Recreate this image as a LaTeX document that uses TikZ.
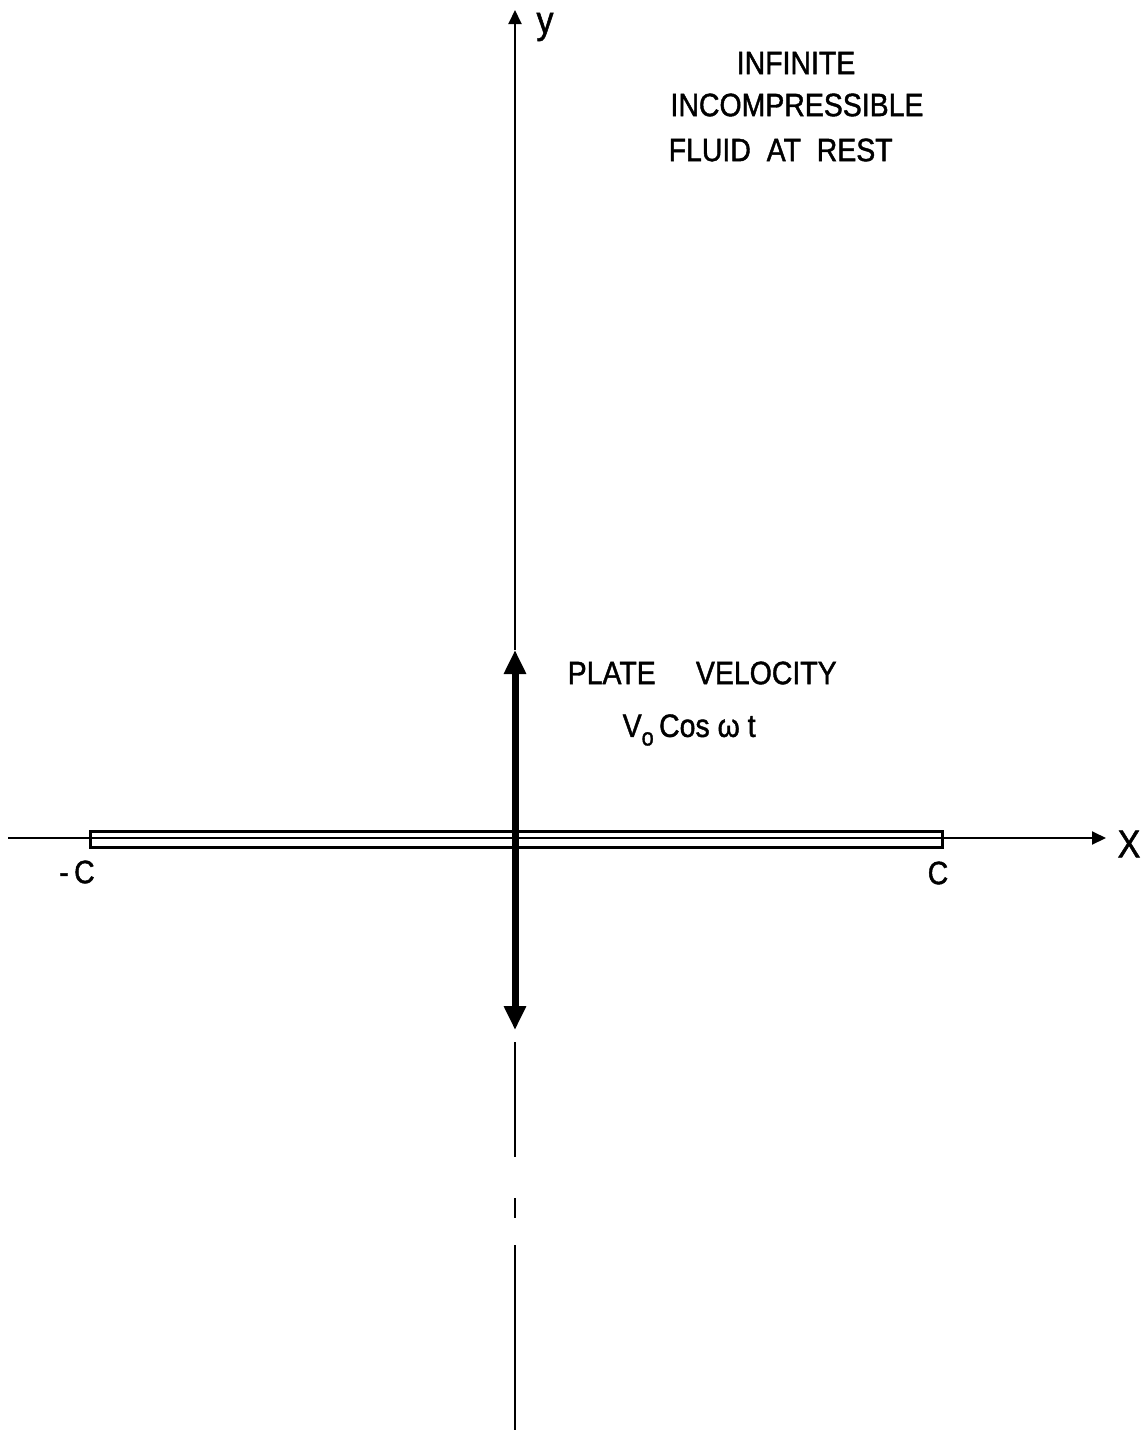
\documentclass[tikz,border=0pt]{standalone}
\usepackage{fontspec}
\setmainfont{Liberation Sans}[FakeStretch=0.88,FakeBold=1.3]
\usetikzlibrary{arrows.meta}
\tikzset{
  axisline/.style={line width=0.2mm,-{Triangle[length=1.4mm,width=1.3mm]}},
  lbl/.style={inner sep=0pt,font=\fontsize{9.2}{12}\selectfont},
}
\begin{document}
\begin{tikzpicture}[x=0.1mm,y=-0.1mm]
\useasboundingbox (0,0) rectangle (1143,1430);
% axes
\coordinate (O) at (515,838);
\coordinate (xs) at (8,838);
\coordinate (xe) at (1106,838);
\coordinate (ytop) at (515,10);
\coordinate (vup) at (515,650);
\coordinate (vdn) at (515,1030);
\coordinate (cs) at (515,1042);
\coordinate (ce) at (515,1430);
\draw[axisline] (xs) -- (xe);
\draw[axisline] (vup) -- (ytop);
% plate
\draw[line width=0.3mm] (90,831) rectangle (942,847);
% plate velocity
\draw[line width=0.7mm,{Triangle[length=2.4mm,width=2.1mm]}-{Triangle[length=2.4mm,width=2.1mm]}] (vdn) -- (vup);
\draw[line width=0.25mm,dash pattern=on 11.5mm off 4.1mm on 2mm off 2.7mm on 30mm] (cs) -- (ce);
% labels
\node[lbl,font=\fontsize{11}{12}\selectfont] (ylab) at (545,27) {y};
\node[lbl,font=\fontsize{11}{12}\selectfont] (xlab) at (1129,844) {X};
\node[lbl] (mc) at (77,872) {-\,C};
\node[lbl] (pc) at (938,873) {C};
\node[lbl] (inf1) at (796,63) {INFINITE};
\node[lbl] (inf2) at (797,105) {INCOMPRESSIBLE};
\node[lbl,anchor=west] (inf3) at (668,150) {FLUID\ \ AT\ \ REST};
\node[lbl,anchor=west] (pv) at (567,673) {PLATE\quad\ VELOCITY};
\node[lbl,anchor=west] (vel) at (622,730) {V\raisebox{-0.5ex}{\fontsize{7}{8}\selectfont o}\,Cos ω t};
\end{tikzpicture}
\end{document}
